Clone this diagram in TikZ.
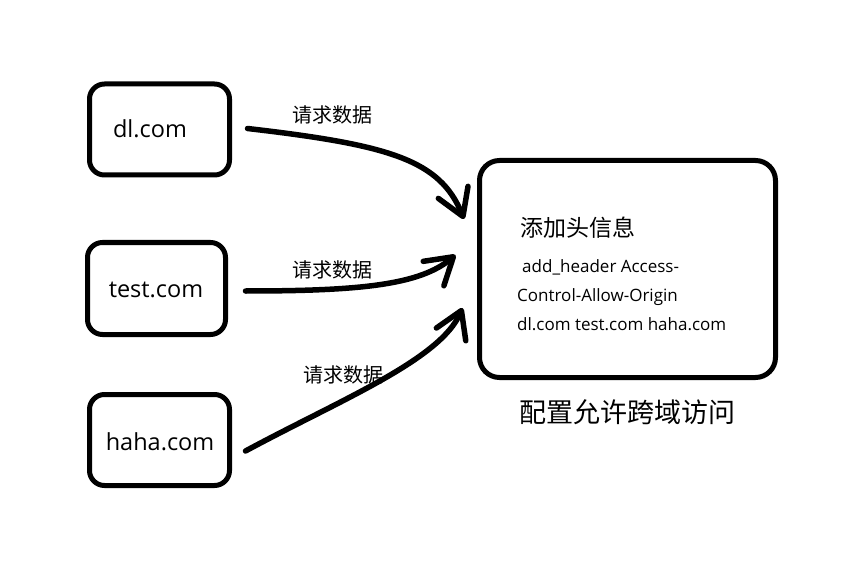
\documentclass[tikz,border=0pt]{standalone}
\usepackage{fontspec}
\setmainfont{Open Sans}
\newfontfamily\cjk{Noto Sans CJK SC}
\usetikzlibrary{arrows.meta,calc}
\tikzset{
  srcbox/.style={draw, line width=5pt, rounded corners=15pt, inner sep=0pt, minimum width=140pt, minimum height=91pt},
  bigbox/.style={draw, line width=5pt, rounded corners=20pt, inner sep=0pt, minimum width=296pt, minimum height=217pt},
  conn/.style={line width=5.5pt, line cap=round, -{Straight Barb[length=26pt,width=32pt,round]}},
  domtext/.style={inner sep=0pt, font=\fontsize{23.5}{28}\selectfont},
  reqtext/.style={inner sep=0pt, font=\cjk\fontsize{20}{24}\selectfont},
  infotext/.style={inner sep=0pt, font=\fontsize{17}{20}\selectfont},
}
\begin{document}
\begin{tikzpicture}[x=1pt,y=-1pt]
\useasboundingbox (0,0) rectangle (862,564);
% boxes
\node[srcbox] (dl) at (159.5,129.5) {};
\node[srcbox, minimum width=138pt, minimum height=92pt] (test) at (156.5,288.5) {};
\node[srcbox] (haha) at (159.5,440) {};
\node[bigbox] (big) at (627.5,269) {};
% box texts
\node[domtext] (dltxt) at (150,129) {dl.com};
\node[domtext] (testtxt) at (156,290) {test.com};
\node[domtext] (hahatxt) at (160,442) {haha.com};
\node[inner sep=0pt, anchor=west, font=\cjk\fontsize{23}{28}\selectfont] (head) at (520,228) {添加头信息};
\node[infotext, anchor=base west] (l1) at (522,272.5) {add\_header Access-};
\node[infotext, anchor=base west] (l2) at (517,301.5) {Control-Allow-Origin};
\node[infotext, anchor=base west] (l3) at (517,330) {dl.com test.com haha.com};
\node[inner sep=0pt, font=\cjk\fontsize{27}{32}\selectfont] (cap) at (627.5,412) {配置允许跨域访问};
% request labels
\node[reqtext] (r1) at (332,115) {请求数据};
\node[reqtext] (r2) at (332,270) {请求数据};
\node[reqtext] (r3) at (343,375) {请求数据};
% connectors
\draw[conn] ($(dl.east)+(15.5,-1)$) .. controls (390,145) and (440,160) .. ($(big.west)+(-13,-50)$);
\draw[conn] ($(test.east)+(17.5,2.5)$) .. controls (360,291) and (420,285) .. ($(big.west)+(-21.5,-14)$);
\draw[conn] ($(haha.east)+(13.5,11)$) .. controls (340,400) and (440,360) .. ($(big.west)+(-14.5,39)$);
\end{tikzpicture}
\end{document}
